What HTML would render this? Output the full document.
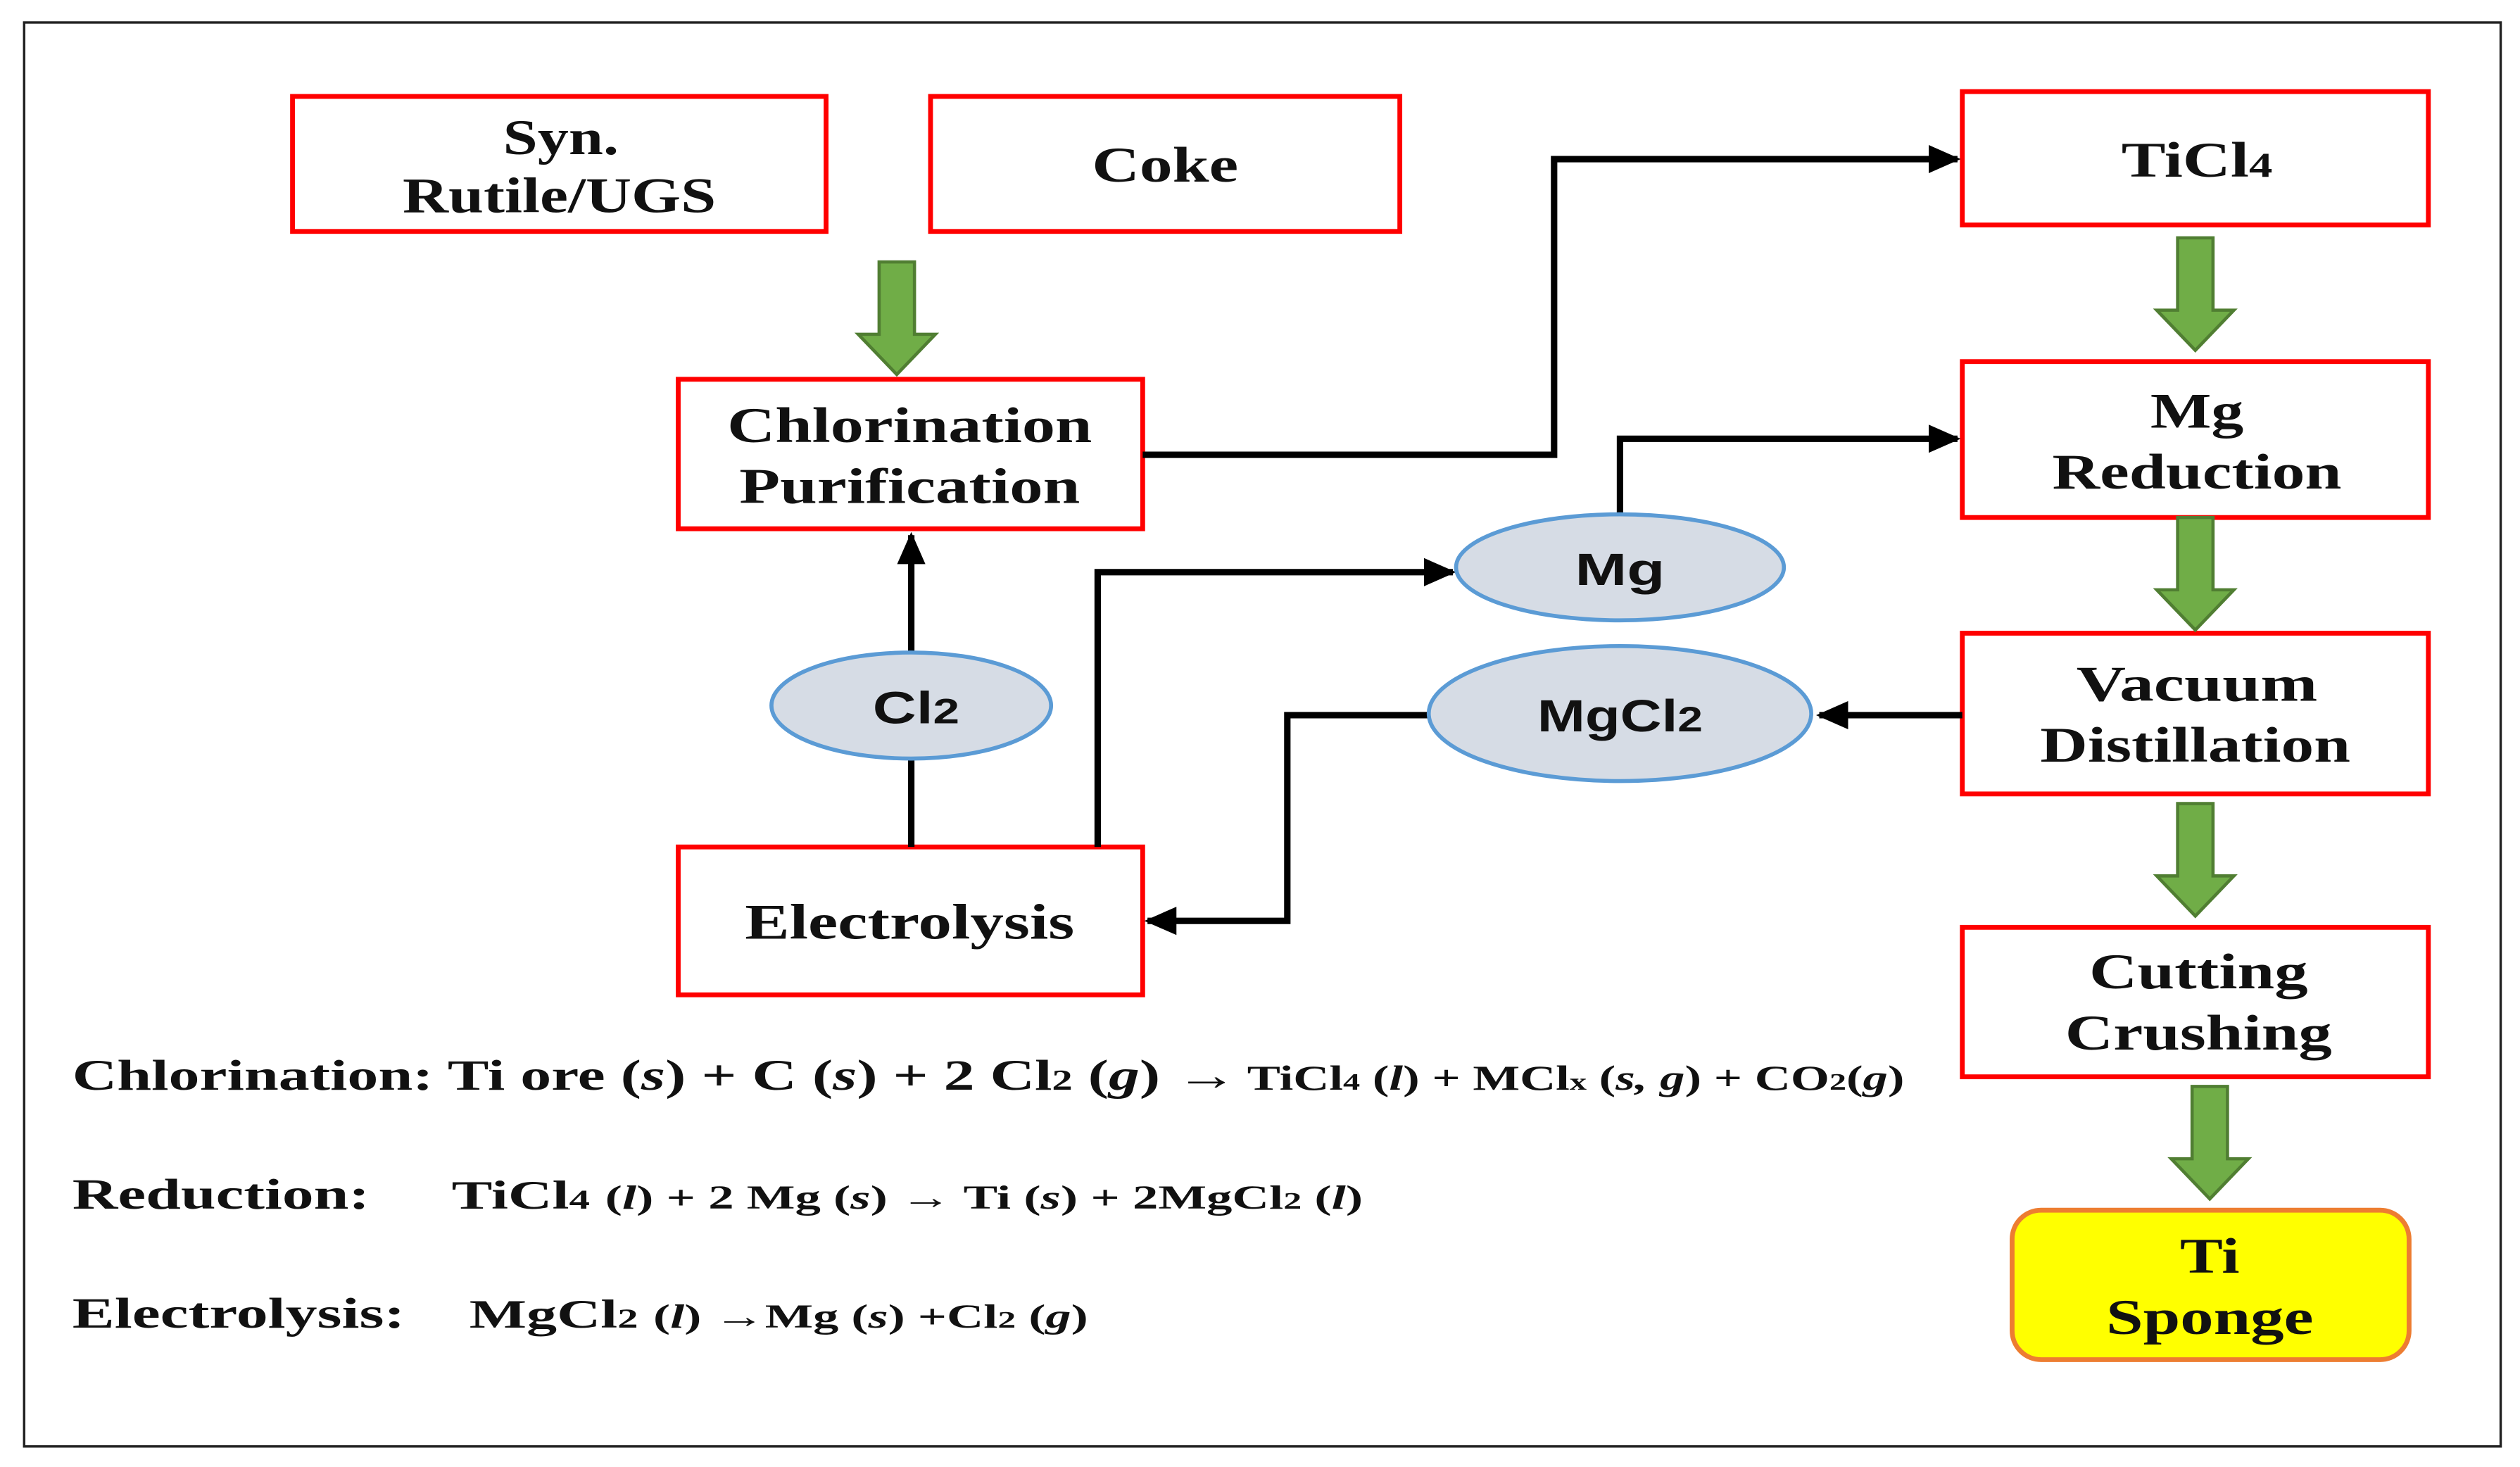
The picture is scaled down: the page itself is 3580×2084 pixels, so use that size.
<!DOCTYPE html>
<html><head><meta charset="utf-8"><style>
html,body{margin:0;padding:0;background:#fff}
svg{display:block}
.bx{font-family:"Liberation Serif",serif;font-weight:bold;font-size:31px;fill:#111;text-anchor:middle}
.el{font-family:"Liberation Sans",sans-serif;font-weight:bold;font-size:28px;fill:#111;text-anchor:middle}
.eq{font-family:"Liberation Serif",serif;font-weight:bold;fill:#111}
</style></head><body>
<svg width="3580" height="2084" viewBox="0 0 1568 912.8" xmlns="http://www.w3.org/2000/svg">
<defs>
<marker id="ah" markerWidth="5" markerHeight="4.4" refX="4.5" refY="2.2" orient="auto" markerUnits="strokeWidth">
<path d="M0,0 L5,2.2 L0,4.4 Z" fill="#000"/></marker>
<g id="ga"><path d="M-11,0 H11 V45 H24 L0,70 L-24,45 H-11 Z" fill="#70ad47" stroke="#507e32" stroke-width="2"/></g>
</defs>
<rect x="15" y="14" width="1541" height="886" fill="#fff" stroke="#222" stroke-width="1.5"/>
<g fill="#fff" stroke="#ff0000" stroke-width="3">
<rect x="182" y="60" width="332" height="84"/>
<rect x="579" y="60" width="292" height="84"/>
<rect x="422" y="236" width="289" height="93"/>
<rect x="1221" y="57" width="290" height="83"/>
<rect x="1221" y="225" width="290" height="97"/>
<rect x="1221" y="394" width="290" height="100"/>
<rect x="1221" y="577" width="290" height="93"/>
<rect x="422" y="527" width="289" height="92"/>
</g>
<rect x="1252" y="753" width="247" height="93" rx="18" fill="#ffff00" stroke="#ed7d31" stroke-width="3"/>
<use href="#ga" x="558" y="163"/>
<use href="#ga" x="1366" y="148"/>
<use href="#ga" x="1366" y="322"/>
<use href="#ga" x="1366" y="500"/>
<use href="#ga" x="1375" y="676"/>
<g fill="none" stroke="#000" stroke-width="4">
<polyline points="711,283 967,283 967,99 1218,99" marker-end="url(#ah)"/>
<polyline points="1008,320 1008,273 1218,273" marker-end="url(#ah)"/>
<polyline points="683,527 683,356 904,356" marker-end="url(#ah)"/>
<polyline points="1221,445 1132,445" marker-end="url(#ah)"/>
<polyline points="889,445 801,445 801,573 714,573" marker-end="url(#ah)"/>
<polyline points="567,527 567,472"/>
<polyline points="567,406 567,333" marker-end="url(#ah)"/>
</g>
<g fill="#d6dce5" stroke="#5b9bd5" stroke-width="2.5">
<ellipse cx="567" cy="439" rx="87" ry="33"/>
<ellipse cx="1008" cy="353" rx="102" ry="33"/>
<ellipse cx="1008" cy="444" rx="119" ry="42"/>
</g>
<text class="el" x="570" y="450" textLength="54" lengthAdjust="spacingAndGlyphs">Cl<tspan font-size="22">2</tspan></text>
<text class="el" x="1008" y="364" textLength="56" lengthAdjust="spacingAndGlyphs">Mg</text>
<text class="el" x="1008" y="455" textLength="103" lengthAdjust="spacingAndGlyphs">MgCl<tspan font-size="22">2</tspan></text>
<text class="bx" x="349" y="96" textLength="72" lengthAdjust="spacingAndGlyphs">Syn.</text>
<text class="bx" x="348" y="132" textLength="195" lengthAdjust="spacingAndGlyphs">Rutile/UGS</text>
<text class="bx" x="725" y="113" textLength="91" lengthAdjust="spacingAndGlyphs">Coke</text>
<text class="bx" x="566" y="275" textLength="227" lengthAdjust="spacingAndGlyphs">Chlorination</text>
<text class="bx" x="566" y="313" textLength="212" lengthAdjust="spacingAndGlyphs">Purification</text>
<text class="bx" x="1367" y="110" textLength="94" lengthAdjust="spacingAndGlyphs">TiCl<tspan font-size="22">4</tspan></text>
<text class="bx" x="1367" y="266" textLength="58" lengthAdjust="spacingAndGlyphs">Mg</text>
<text class="bx" x="1367" y="304" textLength="180" lengthAdjust="spacingAndGlyphs">Reduction</text>
<text class="bx" x="1367" y="436" textLength="150" lengthAdjust="spacingAndGlyphs">Vacuum</text>
<text class="bx" x="1366" y="474" textLength="193" lengthAdjust="spacingAndGlyphs">Distillation</text>
<text class="bx" x="1368" y="615" textLength="136" lengthAdjust="spacingAndGlyphs">Cutting</text>
<text class="bx" x="1368" y="653" textLength="166" lengthAdjust="spacingAndGlyphs">Crushing</text>
<text class="bx" x="1375" y="792" textLength="37" lengthAdjust="spacingAndGlyphs">Ti</text>
<text class="bx" x="1375" y="830" textLength="129" lengthAdjust="spacingAndGlyphs">Sponge</text>
<text class="bx" x="566" y="584" textLength="205" lengthAdjust="spacingAndGlyphs">Electrolysis</text>
<text class="eq" x="45" y="678" font-size="27" textLength="725" lengthAdjust="spacingAndGlyphs">Chlorination: Ti ore (<tspan font-style="italic">s</tspan>) + C (<tspan font-style="italic">s</tspan>) + 2 Cl<tspan font-size="18">2</tspan> (<tspan font-style="italic">g</tspan>) →</text>
<text class="eq" x="776" y="678" font-size="22" textLength="409" lengthAdjust="spacingAndGlyphs">TiCl<tspan font-size="15">4</tspan> (<tspan font-style="italic">l</tspan>) + MCl<tspan font-size="15">x</tspan> (<tspan font-style="italic">s, g</tspan>) + CO<tspan font-size="15">2</tspan>(<tspan font-style="italic">g</tspan>)</text>
<text class="eq" x="45" y="752" font-size="27" textLength="185" lengthAdjust="spacingAndGlyphs">Reduction:</text>
<text class="eq" x="281" y="752" font-size="25" textLength="567" lengthAdjust="spacingAndGlyphs">TiCl<tspan font-size="17">4</tspan> <tspan font-size="21">(<tspan font-style="italic">l</tspan>) + 2 Mg (<tspan font-style="italic">s</tspan>) → Ti (<tspan font-style="italic">s</tspan>) + 2MgCl<tspan font-size="15">2</tspan> (<tspan font-style="italic">l</tspan>)</tspan></text>
<text class="eq" x="45" y="826" font-size="27" textLength="207" lengthAdjust="spacingAndGlyphs">Electrolysis:</text>
<text class="eq" x="292" y="826" font-size="25" textLength="385" lengthAdjust="spacingAndGlyphs">MgCl<tspan font-size="17">2</tspan> <tspan font-size="21">(<tspan font-style="italic">l</tspan>) →Mg (<tspan font-style="italic">s</tspan>) +Cl<tspan font-size="15">2</tspan> (<tspan font-style="italic">g</tspan>)</tspan></text>
</svg>
</body></html>
